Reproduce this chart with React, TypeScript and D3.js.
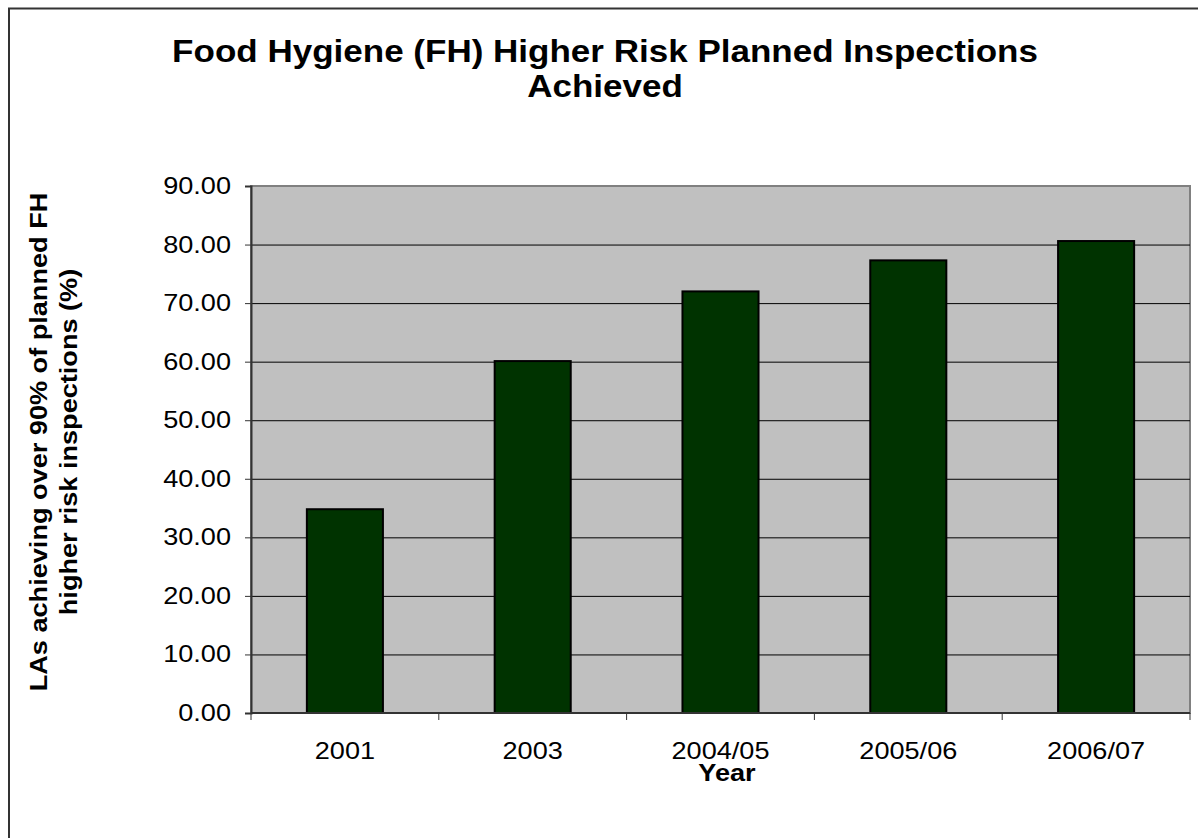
import React, { useEffect, useRef } from "react";
import * as d3 from "d3";

const years = ["2001", "2003", "2004/05", "2005/06", "2006/07"];
const achieved = [34.8, 60.1, 72.0, 77.3, 80.6];
const yTicks = [0, 10, 20, 30, 40, 50, 60, 70, 80, 90];

const App = () => {
    const svgRef = useRef<SVGSVGElement>(null);

    useEffect(() => {
        const svg = d3.select(svgRef.current);
        svg.selectAll("*").remove();
        const font = "'Liberation Sans', Arial, sans-serif";
        const sx = 1.13; // the original's type runs a little wide

        const left = 251, right = 1190, top = 186, bottom = 713;

        const x = d3.scaleBand().domain(years).range([left, right]).paddingInner(0.595).paddingOuter(0.2975);
        const band = d3.scaleBand().domain(years).range([left, right]);
        const y = d3.scaleLinear().domain([0, 90]).range([bottom, top]);

        const addText = (g: any, tx: number, ty: number, str: string, size: number, anchor: string, bold = false, rot = 0) =>
            g.append("text")
                .attr("transform", `translate(${tx},${ty}) rotate(${rot}) scale(${sx},1)`)
                .attr("text-anchor", anchor)
                .attr("font-family", font)
                .attr("font-size", size)
                .attr("font-weight", bold ? "bold" : "normal")
                .attr("fill", "#000")
                .text(str);

        // outer chart border
        svg.append("rect")
            .attr("x", 9).attr("y", 8.5).attr("width", 1200).attr("height", 850)
            .attr("fill", "white").attr("stroke", "#333").attr("stroke-width", 2);

        // plot area
        svg.append("rect")
            .attr("x", left).attr("y", top).attr("width", right - left).attr("height", bottom - top)
            .attr("fill", "#c0c0c0").attr("stroke", "#808080").attr("stroke-width", 2);

        // gridlines
        svg.append("g")
            .selectAll("line")
            .data(yTicks.filter((t) => t > 0 && t < 90))
            .enter()
            .append("line")
            .attr("x1", left).attr("x2", right)
            .attr("y1", (d) => y(d) + 0.5).attr("y2", (d) => y(d) + 0.5)
            .attr("stroke", "#000").attr("stroke-width", 1);

        // bars
        svg.append("g")
            .selectAll("rect")
            .data(achieved)
            .enter()
            .append("rect")
            .attr("x", (d, i) => x(years[i])!)
            .attr("y", (d) => y(d))
            .attr("width", x.bandwidth())
            .attr("height", (d) => bottom - y(d))
            .attr("fill", "#003300")
            .attr("stroke", "#000")
            .attr("stroke-width", 2);

        // y axis
        const yAxis = svg.append("g")
            .attr("transform", `translate(${left},0)`)
            .call(d3.axisLeft(y).tickValues(yTicks).tickSize(6).tickFormat(() => ""));
        yAxis.select(".domain").attr("stroke", "#333").attr("stroke-width", 2);
        yAxis.selectAll(".tick line").attr("stroke", "#333");
        const yLabels = svg.append("g");
        yTicks.forEach((t) => addText(yLabels, 231, y(t) + 8, d3.format(".2f")(t), 24, "end"));

        // x axis
        const xAxis = svg.append("g").attr("transform", `translate(0,${bottom})`);
        xAxis.append("line")
            .attr("x1", left).attr("x2", right).attr("y1", 0).attr("y2", 0)
            .attr("stroke", "#333").attr("stroke-width", 2);
        xAxis.selectAll(".xt")
            .data([...years.map((d) => band(d)!), right])
            .enter()
            .append("line")
            .attr("x1", (d) => d).attr("x2", (d) => d)
            .attr("y1", 0).attr("y2", 7)
            .attr("stroke", "#333");
        const xLabels = svg.append("g");
        years.forEach((d) => addText(xLabels, band(d)! + band.bandwidth() / 2, 759, d, 24, "middle"));

        // titles
        addText(svg, 605, 62, "Food Hygiene (FH) Higher Risk Planned Inspections", 31, "middle", true);
        addText(svg, 605, 97, "Achieved", 31, "middle", true);
        addText(svg, 727, 781, "Year", 24, "middle", true);

        addText(svg, 47, 442, "LAs achieving over 90% of planned FH", 24, "middle", true, -90);
        addText(svg, 77, 442, "higher risk inspections (%)", 24, "middle", true, -90);
    }, []);

    return (
        <svg ref={svgRef} width={1198} height={838} style={{ position: "absolute", left: 0, top: 0 }}></svg>
    );
};

export default App;
